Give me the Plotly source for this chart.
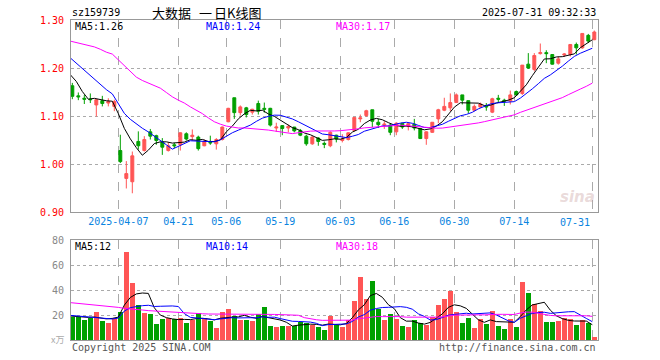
import plotly.graph_objects as go
import pandas as pd
import numpy as np

# ---------------- data ----------------
dates = ["03-25","03-26","03-27","03-28","03-31","04-01","04-02","04-03","04-07","04-08",
         "04-09","04-10","04-11","04-14","04-15","04-16","04-17","04-18","04-21","04-22",
         "04-23","04-24","04-25","04-28","04-29","04-30","05-06","05-07","05-08","05-09",
         "05-12","05-13","05-14","05-15","05-16","05-19","05-20","05-21","05-22","05-23",
         "05-26","05-27","05-28","05-29","05-30","06-03","06-04","06-05","06-06","06-09",
         "06-10","06-11","06-12","06-13","06-16","06-17","06-18","06-19","06-20","06-23",
         "06-24","06-25","06-26","06-27","06-30","07-01","07-02","07-03","07-04","07-07",
         "07-08","07-09","07-10","07-11","07-14","07-15","07-16","07-17","07-18","07-21",
         "07-22","07-23","07-24","07-25","07-28","07-29","07-30","07-31"]

opens = [1.163,1.142,1.137,1.135,1.123,1.132,1.127,1.120,1.028,0.970,
         0.963,1.047,1.028,1.067,1.059,1.046,1.028,1.040,1.040,1.063,
         1.057,1.056,1.038,1.045,1.042,1.051,1.088,1.138,1.107,1.117,
         1.108,1.126,1.116,1.116,1.075,1.080,1.075,1.077,1.070,1.058,
         1.042,1.054,1.043,1.038,1.060,1.049,1.051,1.070,1.094,1.101,
         1.113,1.087,1.081,1.081,1.067,1.085,1.078,1.083,1.074,1.053,
         1.066,1.094,1.112,1.117,1.128,1.144,1.132,1.112,1.119,1.121,
         1.108,1.137,1.133,1.131,1.151,1.147,1.208,1.197,1.230,1.232,
         1.228,1.210,1.227,1.228,1.249,1.242,1.268,1.259]
highs = [1.169,1.149,1.144,1.147,1.135,1.142,1.137,1.134,1.061,1.006,
         1.026,1.068,1.058,1.073,1.061,1.054,1.045,1.044,1.066,1.066,
         1.072,1.059,1.051,1.059,1.054,1.078,1.117,1.138,1.122,1.119,
         1.115,1.132,1.128,1.117,1.086,1.080,1.082,1.077,1.073,1.061,
         1.058,1.056,1.047,1.068,1.061,1.062,1.066,1.097,1.103,1.113,
         1.113,1.094,1.089,1.085,1.087,1.085,1.085,1.094,1.075,1.068,
         1.087,1.115,1.138,1.147,1.147,1.144,1.132,1.124,1.128,1.127,
         1.138,1.144,1.136,1.153,1.153,1.206,1.231,1.231,1.251,1.237,
         1.229,1.224,1.231,1.250,1.253,1.272,1.271,1.278]
lows = [1.135,1.133,1.125,1.127,1.099,1.120,1.120,1.110,1.002,0.949,
        0.939,1.030,1.026,1.051,1.040,1.019,1.026,1.033,1.028,1.049,
        1.049,1.028,1.037,1.040,1.030,1.049,1.087,1.094,1.101,1.097,
        1.103,1.103,1.107,1.078,1.067,1.060,1.066,1.066,1.058,1.038,
        1.040,1.038,1.033,1.035,1.045,1.045,1.049,1.068,1.087,1.098,
        1.077,1.075,1.073,1.060,1.060,1.073,1.070,1.070,1.052,1.040,
        1.065,1.085,1.110,1.110,1.127,1.124,1.106,1.110,1.117,1.111,
        1.106,1.128,1.121,1.124,1.142,1.144,1.198,1.193,1.228,1.210,
        1.207,1.207,1.223,1.224,1.228,1.240,1.252,1.258]
closes = [1.141,1.140,1.135,1.134,1.134,1.126,1.130,1.130,1.005,0.980,
          1.017,1.038,1.051,1.058,1.049,1.035,1.038,1.038,1.065,1.052,
          1.060,1.032,1.047,1.044,1.051,1.077,1.116,1.107,1.119,1.103,
          1.114,1.110,1.114,1.081,1.077,1.074,1.078,1.069,1.060,1.042,
          1.056,1.047,1.041,1.066,1.052,1.052,1.065,1.097,1.096,1.111,
          1.089,1.082,1.083,1.066,1.085,1.077,1.084,1.075,1.053,1.067,
          1.087,1.113,1.120,1.128,1.144,1.133,1.112,1.120,1.125,1.119,
          1.136,1.135,1.131,1.144,1.144,1.206,1.200,1.226,1.232,1.230,
          1.208,1.219,1.229,1.249,1.242,1.272,1.256,1.275]
volumes = [18.1,18.1,16.0,17.3,22.4,15.2,13.6,17.9,22.4,70.4,
           45.9,27.7,21.6,20.8,12.8,16.8,17.6,16.5,17.9,13.6,
           16.0,21.6,17.9,15.2,9.6,22.7,24.8,19.2,16.0,16.0,
           15.2,20.5,26.4,11.2,10.7,11.2,11.5,11.2,14.7,13.9,
           12.0,10.7,8.0,19.2,12.0,10.7,16.0,31.2,50.4,32.8,
           47.2,24.5,16.0,20.8,16.8,11.2,10.7,16.0,13.3,12.3,
           18.1,28.0,32.8,39.2,22.7,13.9,17.9,9.9,16.5,12.5,
           23.5,11.2,9.1,16.5,10.7,46.4,37.9,28.8,23.2,14.7,
           14.7,15.5,17.3,16.5,12.0,16.0,13.9,2.7]

ma5_head = [1.186,1.172,1.151,1.135]
ma10_head = [1.221,1.210,1.198,1.186,1.177,1.165,1.155,1.146,1.127]
ma30_head = [1.256,1.253,1.249,1.247,1.244,1.239,1.233,1.229,1.217,1.205,
             1.192,1.181,1.174,1.169,1.164,1.158,1.149,1.140,1.133,1.127,
             1.119,1.112,1.105,1.096,1.088,1.083,1.079,1.077,1.075]
vma5_head = [19.2,18.7,18.4,18.1]
vma10_head = [19.7,19.2,18.7,18.4,18.1,17.6,17.1,16.8,17.6]
vma30_head = [29.9,29.5,29.0,28.5,28.0,27.5,27.0,26.5,26.1,25.3,
              25.0,24.5,24.0,23.5,23.2,22.7,22.3,21.9,21.6,21.3,
              21.3,21.1,21.0,20.8,20.8,20.8,20.8,20.5,20.5]

tick_dates = ["04-07","04-21","05-06","05-19","06-03","06-16","06-30","07-14","07-31"]
tick_labels = ["2025-04-07","04-21","05-06","05-19","06-03","06-16","06-30","07-14","07-31"]
price_ticks = [0.90,1.00,1.10,1.20,1.30]
vol_ticks = [20,40,60,80]

# ---------------- helpers ----------------
def ma(values, n, head):
    s = pd.Series(values).rolling(n).mean().to_numpy()
    s[:len(head)] = head
    return s

idx = np.arange(len(dates))
RED = "#FF5555"
GREEN = "#00A000"
MONO = "DejaVu Sans Mono"
CJK = "Noto Sans CJK SC"

ma5 = ma(closes, 5, ma5_head)
ma10 = ma(closes, 10, ma10_head)
ma30 = ma(closes, 30, ma30_head)
vma5 = ma(volumes, 5, vma5_head)
vma10 = ma(volumes, 10, vma10_head)
vma30 = ma(volumes, 30, vma30_head)

W, H = 660, 360
L, R, T, B = 71, 62, 20, 20
def px(x):
    return (x - L) / (W - L - R)
def py(y):
    return (H - B - y) / (H - T - B)

line_off = -0.33
tick_pos = [dates.index(d) + line_off for d in tick_dates]

fig = go.Figure()

fig.add_trace(go.Candlestick(
    x=idx, open=opens, high=highs, low=lows, close=closes,
    increasing=dict(line=dict(color=RED, width=1), fillcolor=RED),
    decreasing=dict(line=dict(color=GREEN, width=1), fillcolor=GREEN),
    whiskerwidth=0, xaxis="x", yaxis="y", hoverinfo="skip", showlegend=False))

for series, col in [(ma5, "#000000"), (ma10, "#0000FF"), (ma30, "#FF00FF")]:
    fig.add_trace(go.Scatter(x=idx + line_off, y=series, mode="lines",
                             line=dict(color=col, width=1), xaxis="x", yaxis="y",
                             hoverinfo="skip", showlegend=False))

vol_colors = [RED if c >= o else GREEN for o, c in zip(opens, closes)]
fig.add_trace(go.Bar(x=idx, y=volumes, marker=dict(color=vol_colors, line=dict(width=0)),
                     width=0.82, xaxis="x2", yaxis="y2", hoverinfo="skip", showlegend=False))

for series, col in [(vma5, "#000000"), (vma10, "#0000FF"), (vma30, "#FF00FF")]:
    fig.add_trace(go.Scatter(x=idx + line_off, y=series, mode="lines",
                             line=dict(color=col, width=1), xaxis="x2", yaxis="y2",
                             hoverinfo="skip", showlegend=False))

xr = [-0.22, len(dates) - 1 + 0.617]
frame = dict(showline=True, linecolor="#999999", linewidth=1, mirror=True, zeroline=False,
             automargin=False)

fig.update_layout(
    width=W, height=H, margin=dict(l=L, r=R, t=T, b=B, autoexpand=False),
    paper_bgcolor="white", plot_bgcolor="white", hovermode=False,
    bargap=0, font=dict(family=MONO, size=10),
    xaxis=dict(domain=[0, 1], anchor="y", range=xr, rangeslider=dict(visible=False),
               tickmode="array", tickvals=tick_pos, ticktext=tick_labels[:-1] + [""],
               showgrid=True, gridcolor="#AAAAAA", griddash="dash", gridwidth=1,
               ticks="", tickfont=dict(family=MONO, size=10, color="#0A84E0"), **frame),
    yaxis=dict(domain=[0.4, 1.0], anchor="x", range=[0.90, 1.30],
               tickmode="array", tickvals=price_ticks, ticktext=[f"{v:.2f}" for v in price_ticks],
               showgrid=True, gridcolor="#AAAAAA", griddash="dot", gridwidth=1,
               ticks="", ticklabelstandoff=4,
               tickfont=dict(family=MONO, size=10, color="#FF0000"), **frame),
    xaxis2=dict(domain=[0, 1], anchor="y2", range=xr, matches="x",
                tickmode="array", tickvals=tick_pos, showticklabels=False,
                showgrid=True, gridcolor="#AAAAAA", griddash="dash", gridwidth=1,
                ticks="", **frame),
    yaxis2=dict(domain=[0, 100 / 320], anchor="x2", range=[0, 80],
                tickmode="array", tickvals=vol_ticks, ticktext=[str(v) for v in vol_ticks],
                showgrid=True, gridcolor="#AAAAAA", griddash="dot", gridwidth=1,
                ticks="", ticklabelstandoff=4,
                tickfont=dict(family=MONO, size=10, color="#888888"), **frame),
)

ann = []
def text(x, y, s, color="#000000", size=10, anchor="left", family=MONO, yanchor="middle"):
    ann.append(dict(x=px(x), y=py(y), xref="paper", yref="paper", text=s, showarrow=False,
                    xanchor=anchor, yanchor=yanchor, font=dict(family=family, size=size, color=color)))

text(70, 13, "sz159739")
text(150, 13, "大数据", size=13, family=CJK)
text(197, 13, "一", size=13, family=CJK)
text(212, 13, "日K线图", size=13, family=CJK)
text(598, 13, "2025-07-31 09:32:33", anchor="right")

text(73, 27, f"MA5:{ma5[-1]:.2f}")
text(204, 27, f"MA10:{ma10[-1]:.2f}", color="#0000FF")
text(334, 27, f"MA30:{ma30[-1]:.2f}", color="#FF00FF")

text(73, 246, f"MA5:{int(vma5[-1])}")
text(204, 246, f"MA10:{int(vma10[-1])}", color="#0000FF")
text(334, 246, f"MA30:{int(vma30[-1])}", color="#FF00FF")

text(592, 222, tick_labels[-1], color="#0A84E0", anchor="right")
text(66, 339, "x万", color="#AAAAAA", size=9, anchor="right", family=CJK)
text(70, 347, "Copyright 2025 SINA.COM", color="#555555")
text(598, 347, "http://finance.sina.com.cn", color="#555555", anchor="right")
text(597, 197, "<b><i>sina</i></b>", color="rgba(200,160,160,0.4)", size=15, anchor="right",
     family="DejaVu Sans")

fig.update_layout(annotations=ann)
fig.write_html("out.html", config={"displayModeBar": False},
               post_script="document.body.style.margin='0px';document.body.style.padding='0px';")
